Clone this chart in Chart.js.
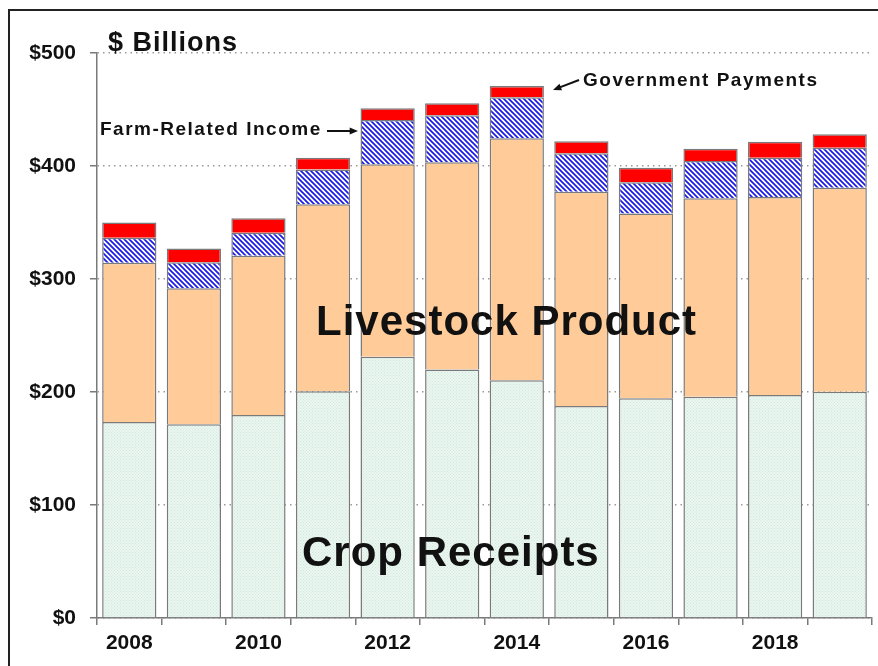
<!DOCTYPE html>
<html>
<head>
<meta charset="utf-8">
<script src="https://cdn.jsdelivr.net/npm/chart.js@4.4.1/dist/chart.umd.min.js"></script>
<style>
  html, body { margin: 0; padding: 0; background: #fff; }
  #wrap { position: relative; width: 878px; height: 666px; }
  #frame { position: absolute; left: 8px; top: 9px; right: -4px; bottom: -4px;
           border-left: 2px solid #222; border-top: 2px solid #222; pointer-events: none; }
</style>
</head>
<body>
<div id="wrap">
  <canvas id="chart" width="878" height="666"></canvas>
  <div id="frame"></div>
</div>
<script>
// annees (une barre par annee)
const years = ['2008', '2009', '2010', '2011', '2012', '2013', '2014', '2015', '2016', '2017', '2018', '2019'];
// $ milliards
const cropReceipts = [173.5, 171.4, 179.6, 200.6, 231.2, 220.0, 210.3, 187.6, 194.4, 195.8, 197.3, 200.3];
const livestock    = [140.9, 120.4, 141.0, 165.5, 170.3, 183.3, 214.2, 189.7, 163.6, 175.6, 175.3, 180.5];
const farmRelated  = [22.1, 23.0, 20.4, 30.9, 39.2, 41.7, 36.3, 33.9, 27.6, 33.0, 34.8, 35.4];
const govPayments  = [13.5, 12.2, 12.7, 10.4, 10.3, 10.5, 10.0, 10.8, 12.9, 10.9, 14.1, 11.8];
const yTicks = [0, 100, 200, 300, 400, 500];

const FONT = '"Liberation Sans", Arial, sans-serif';

// hachures bleues pour "Farm-Related Income"
function makeHatch() {
  const c = document.createElement('canvas');
  c.width = 5; c.height = 5;
  const g = c.getContext('2d');
  g.fillStyle = '#ffffff';
  g.fillRect(0, 0, 5, 5);
  g.strokeStyle = '#1a1ae8';
  g.lineWidth = 1.7;
  g.beginPath();
  g.moveTo(-1, -1); g.lineTo(6, 6);
  g.moveTo(-3.5, 1.5); g.lineTo(1.5, 6.5);
  g.moveTo(1.5, -3.5); g.lineTo(6.5, 1.5);
  g.stroke();
  return g.createPattern(c, 'repeat');
}

// petit motif pointille vert pale pour "Crop Receipts"
function makeDots() {
  const c = document.createElement('canvas');
  c.width = 3; c.height = 3;
  const g = c.getContext('2d');
  g.fillStyle = '#eaf6ef';
  g.fillRect(0, 0, 3, 3);
  g.fillStyle = '#cfe8da';
  g.fillRect(0, 0, 1, 1);
  g.fillRect(1.5, 1.5, 1, 1);
  return g.createPattern(c, 'repeat');
}

function arrow(ctx, x1, y1, x2, y2) {
  const a = Math.atan2(y2 - y1, x2 - x1);
  const h = 9;
  ctx.beginPath();
  ctx.moveTo(x1, y1);
  ctx.lineTo(x2 - Math.cos(a) * h * 0.8, y2 - Math.sin(a) * h * 0.8);
  ctx.lineWidth = 2;
  ctx.strokeStyle = '#111';
  ctx.stroke();
  ctx.beginPath();
  ctx.moveTo(x2, y2);
  ctx.lineTo(x2 - h * Math.cos(a - 0.4), y2 - h * Math.sin(a - 0.4));
  ctx.lineTo(x2 - h * Math.cos(a + 0.4), y2 - h * Math.sin(a + 0.4));
  ctx.closePath();
  ctx.fillStyle = '#111';
  ctx.fill();
}

// textes et fleches par dessus le graphe
const annotations = {
  id: 'annotations',
  afterDraw(chart) {
    const ctx = chart.ctx;
    ctx.save();
    ctx.fillStyle = '#111';
    ctx.textBaseline = 'alphabetic';
    ctx.textAlign = 'left';

    ctx.font = 'bold 27px ' + FONT;
    ctx.letterSpacing = '1px';
    ctx.fillText('$ Billions', 108, 51);

    ctx.font = 'bold 42px ' + FONT;
    ctx.letterSpacing = '1px';
    ctx.fillText('Livestock Product', 316, 335);
    ctx.fillText('Crop Receipts', 302, 566);

    ctx.font = 'bold 19px ' + FONT;
    ctx.letterSpacing = '1.5px';
    ctx.fillText('Farm-Related Income', 100, 135);
    ctx.fillText('Government Payments', 583, 86);
    ctx.letterSpacing = '0px';

    arrow(ctx, 327, 131, 358, 131);
    arrow(ctx, 579, 80, 553, 90);
    ctx.restore();
  }
};

const border = '#7a7a7a';
const ctx = document.getElementById('chart').getContext('2d');

const chart = new Chart(ctx, {
  type: 'bar',
  data: {
    labels: years,
    datasets: [
      { label: 'Crop Receipts', data: cropReceipts, backgroundColor: makeDots() },
      { label: 'Livestock Product', data: livestock, backgroundColor: '#ffcc99' },
      { label: 'Farm-Related Income', data: farmRelated, backgroundColor: makeHatch() },
      { label: 'Government Payments', data: govPayments, backgroundColor: '#ff0000' }
    ].map(d => Object.assign(d, {
      borderColor: border,
      borderWidth: 1.5,
      categoryPercentage: 0.84,
      barPercentage: 1
    }))
  },
  options: {
    responsive: false,
    animation: false,
    layout: { padding: { top: 53, right: 6, left: 0, bottom: 0 } },
    plugins: { legend: { display: false }, tooltip: { enabled: false } },
    scales: {
      x: {
        stacked: true,
        offset: true,
        afterFit(s) { s.height = 48; },
        border: { color: border, width: 1.5 },
        grid: { offset: true, drawOnChartArea: false, color: border, tickLength: 7, lineWidth: 1.5 },
        ticks: {
          autoSkip: false,
          maxRotation: 0,
          padding: 6,
          color: '#111',
          font: { family: FONT, size: 21, weight: 'bold' },
          callback(v, i) { return i % 2 === 0 ? years[i] : ''; }
        }
      },
      y: {
        stacked: true,
        min: 0,
        max: 500,
        afterFit(s) { s.width = 97; },
        afterBuildTicks(s) { s.ticks = yTicks.map(v => ({ value: v })); },
        // border.dash = pointilles des lignes de grille (v4)
        border: { color: border, width: 1.5, dash: [1.5, 4] },
        grid: {
          color: '#9a9a9a',
          lineWidth: 1.5,
          tickLength: 7,
          tickColor: border,
          tickBorderDash: []
        },
        ticks: {
          padding: 14,
          color: '#111',
          font: { family: FONT, size: 21, weight: 'bold' },
          callback(v) { return '$' + v; }
        }
      }
    }
  },
  plugins: [annotations]
});
</script>
</body>
</html>
